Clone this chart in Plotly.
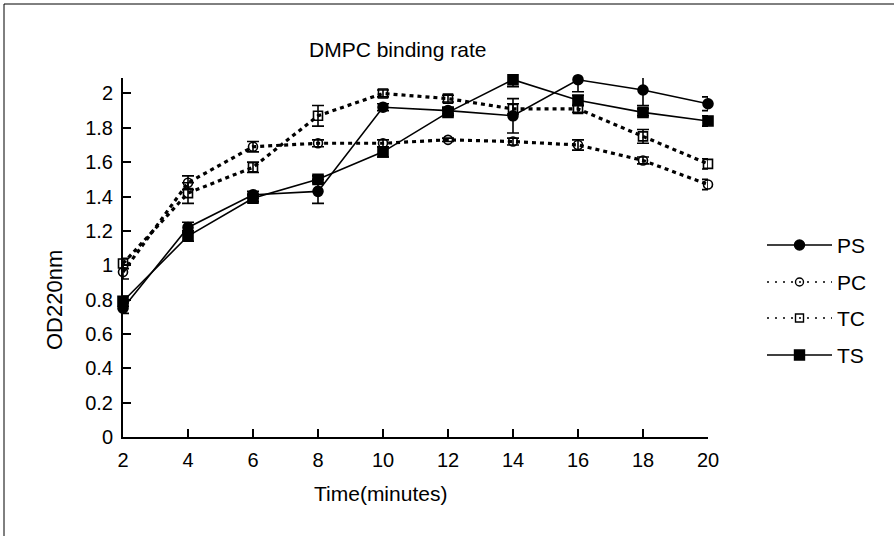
import plotly.graph_objects as go

time = [2, 4, 6, 8, 10, 12, 14, 16, 18, 20]
ps = [0.75, 1.22, 1.41, 1.43, 1.92, 1.90, 1.87, 2.08, 2.02, 1.94]
ps_err = [0.03, 0.03, 0.02, 0.07, 0.02, 0.02, 0.10, 0.07, 0.09, 0.04]
pc = [0.96, 1.48, 1.69, 1.71, 1.71, 1.73, 1.72, 1.70, 1.61, 1.47]
pc_err = [0.04, 0.04, 0.03, 0.02, 0.02, 0.01, 0.02, 0.03, 0.02, 0.03]
tc = [1.01, 1.42, 1.57, 1.87, 2.00, 1.97, 1.91, 1.91, 1.75, 1.59]
tc_err = [0.03, 0.06, 0.03, 0.06, 0.02, 0.02, 0.03, 0.02, 0.04, 0.03]
ts = [0.79, 1.17, 1.39, 1.50, 1.66, 1.89, 2.08, 1.96, 1.89, 1.84]
ts_err = [0.03, 0.03, 0.02, 0.02, 0.03, 0.02, 0.04, 0.03, 0.02, 0.03]
y_ticks = [0, 0.2, 0.4, 0.6, 0.8, 1, 1.2, 1.4, 1.6, 1.8, 2]
x_ticks = [2, 4, 6, 8, 10, 12, 14, 16, 18, 20]
series_names = ["PS", "PC", "TC", "TS"]

FONT = "Liberation Sans, Arial, sans-serif"

W, H = 894, 536
ML, MR, MT, MB = 123, 10, 78, 99
PW = W - ML - MR
PH = H - MT - MB
PLOT_RIGHT = 708


def px(x):
    return (x - ML) / PW


def py(y):
    return (H - MB - y) / PH


styles = {
    "PS": dict(dash="solid", sym="circle", size=10),
    "PC": dict(dash="4px,4px", sym="circle-open", size=9),
    "TC": dict(dash="4px,4px", sym="square-open", size=9),
    "TS": dict(dash="solid", sym="square", size=10),
}
values = {"PS": (ps, ps_err), "PC": (pc, pc_err), "TC": (tc, tc_err), "TS": (ts, ts_err)}

fig = go.Figure()
for name in series_names:
    vals, err = values[name]
    st = styles[name]
    solid = st["dash"] == "solid"
    fig.add_trace(go.Scatter(
        x=time, y=vals, name=name, mode="lines+markers", showlegend=False,
        cliponaxis=False,
        line=dict(color="black", width=1.6 if solid else 3.2, dash=st["dash"]),
        marker=dict(symbol=st["sym"], size=st["size"], color="black",
                    line=dict(color="black", width=1.6)),
        error_y=dict(type="data", array=err, visible=True, color="black",
                     thickness=1.6, width=6),
        xaxis="x", yaxis="y",
    ))

# hand-drawn legend (pixel coordinates on auxiliary axes)
leg_y = [245, 282, 318, 355]
for name, ly in zip(series_names, leg_y):
    st = styles[name]
    solid = st["dash"] == "solid"
    fig.add_trace(go.Scatter(
        x=[767, 832], y=[ly, ly], mode="lines", showlegend=False,
        line=dict(color="black", width=1.6,
                  dash="solid" if solid else "2px,6px"),
        xaxis="x2", yaxis="y2", hoverinfo="skip",
    ))
    fig.add_trace(go.Scatter(
        x=[799.5], y=[ly], mode="markers", showlegend=False,
        marker=dict(symbol=st["sym"], size=st["size"] if solid else 8,
                    color="black", line=dict(color="black", width=1.4)),
        xaxis="x2", yaxis="y2", hoverinfo="skip",
    ))

annotations = [
    dict(text="DMPC binding rate", x=px(397), y=py(49), xanchor="center",
         yanchor="middle", font=dict(size=21)),
    dict(text="Time(minutes)", x=px(380), y=py(493), xanchor="center",
         yanchor="middle", font=dict(size=21)),
    dict(text="OD220nm", x=px(54), y=py(300), xanchor="center",
         yanchor="middle", textangle=-90, font=dict(size=22)),
]
for name, ly in zip(series_names, leg_y):
    annotations.append(dict(text=name, x=px(835), y=py(ly), xanchor="left",
                            yanchor="middle", font=dict(size=21)))
for a in annotations:
    a.update(xref="paper", yref="paper", showarrow=False)

fig.update_layout(
    width=W, height=H,
    paper_bgcolor="white", plot_bgcolor="white",
    margin=dict(l=ML, r=MR, t=MT, b=MB, autoexpand=False),
    font=dict(family=FONT, size=20, color="black"),
    showlegend=False,
    xaxis=dict(domain=[0, px(PLOT_RIGHT)], range=[2, 20], tickvals=x_ticks,
               showline=True, linecolor="black", linewidth=2, ticks="inside",
               tickcolor="black", ticklen=8, tickwidth=1.5,
               ticklabelstandoff=4,
               showgrid=False, zeroline=False, automargin=False),
    yaxis=dict(range=[0, 2.09], tickvals=y_ticks, showline=True,
               linecolor="black", linewidth=2, ticks="inside",
               tickcolor="black", ticklen=8, tickwidth=1.5,
               ticklabelstandoff=4,
               showgrid=False, zeroline=False, automargin=False),
    xaxis2=dict(domain=[px(740), 1], range=[740, 884], visible=False,
                fixedrange=True),
    yaxis2=dict(domain=[0, 1], range=[437, 78], visible=False, anchor="x2",
                fixedrange=True),
    annotations=annotations,
    shapes=[
        dict(type="line", xref="paper", yref="paper",
             x0=px(4), x1=px(4), y0=py(540), y1=py(4),
             line=dict(color="black", width=1)),
        dict(type="line", xref="paper", yref="paper",
             x0=px(4), x1=px(900), y0=py(4), y1=py(4),
             line=dict(color="black", width=1)),
    ],
)

fig.write_html("out.html", config={"displayModeBar": False},
               post_script="document.body.style.margin='0';")
